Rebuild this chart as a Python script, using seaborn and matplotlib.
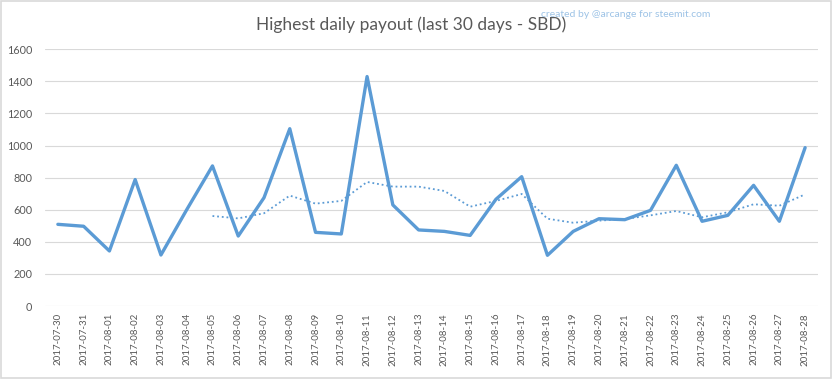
import pandas as pd
import matplotlib.pyplot as plt
import matplotlib.patches as mpatches
import seaborn as sns

# ---------------------------
# Data
# ---------------------------
dates = [
    "2017-07-30", "2017-07-31", "2017-08-01", "2017-08-02", "2017-08-03",
    "2017-08-04", "2017-08-05", "2017-08-06", "2017-08-07", "2017-08-08",
    "2017-08-09", "2017-08-10", "2017-08-11", "2017-08-12", "2017-08-13",
    "2017-08-14", "2017-08-15", "2017-08-16", "2017-08-17", "2017-08-18",
    "2017-08-19", "2017-08-20", "2017-08-21", "2017-08-22", "2017-08-23",
    "2017-08-24", "2017-08-25", "2017-08-26", "2017-08-27", "2017-08-28",
]
payout = [
    509, 497, 343, 788, 318, 600, 873, 436, 675, 1105,
    459, 449, 1430, 630, 474, 465, 440, 665, 806, 316,
    465, 544, 538, 596, 877, 528, 565, 752, 528, 987,
]
# dotted trend line (shown from 2017-08-05 onward)
trend_dates = dates[6:]
trend = [
    561, 546, 578, 688, 638, 655, 773, 744, 744, 717,
    619, 655, 698, 544, 519, 532, 542, 565, 592, 553,
    584, 634, 625, 696,
]

title = "Highest daily payout (last 30 days - SBD)"
credit = "created by @arcange for steemit.com"

# ---------------------------
# Plot
# ---------------------------
sns.set_style("white")
plt.rcParams["font.family"] = ["Lato", "DejaVu Sans"]

blue = "#5B9BD5"
grey_txt = "#595959"
grid_col = "#D9D9D9"

fig = plt.figure(figsize=(8.33, 3.79), dpi=100)
ax = fig.add_axes([0.054, 0.1926, 0.928, 0.6774])

df = pd.DataFrame({"date": dates, "payout": payout})
df_trend = pd.DataFrame({"date": trend_dates, "trend": trend})

sns.lineplot(data=df, x="date", y="payout", ax=ax, color=blue,
             linewidth=2.4, estimator=None, sort=False)
sns.lineplot(data=df_trend, x="date", y="trend", ax=ax, color=blue,
             linewidth=1.3, linestyle=(0, (1, 1.6)), estimator=None, sort=False)

ax.set_xlim(-0.5, len(dates) - 0.5)
ax.set_ylim(0, 1600)
ax.set_yticks(range(0, 1601, 200))
ax.set_xlabel("")
ax.set_ylabel("")
ax.yaxis.grid(True, color=grid_col, linewidth=0.8)
ax.set_axisbelow(True)
for s in ["top", "right", "left", "bottom"]:
    ax.spines[s].set_visible(False)

ax.tick_params(axis="y", length=0, labelsize=7.8, labelcolor=grey_txt, pad=9)
ax.tick_params(axis="x", length=0, labelsize=7, labelcolor=grey_txt, pad=5)
plt.setp(ax.get_xticklabels(), rotation=90)

fig.text(0.493, 0.934, title, ha="center", va="center", fontsize=12.5, color=grey_txt)
fig.text(0.751, 0.963, credit, ha="center", va="center", fontsize=7.5, color="#9DC3E6")

# light chart border like the spreadsheet export
fig.patches.append(mpatches.Rectangle((0.001, 0.003), 0.996, 0.994, transform=fig.transFigure,
                                      fill=False, edgecolor=grid_col, linewidth=1.2))

fig.savefig("out.png", dpi=100)
